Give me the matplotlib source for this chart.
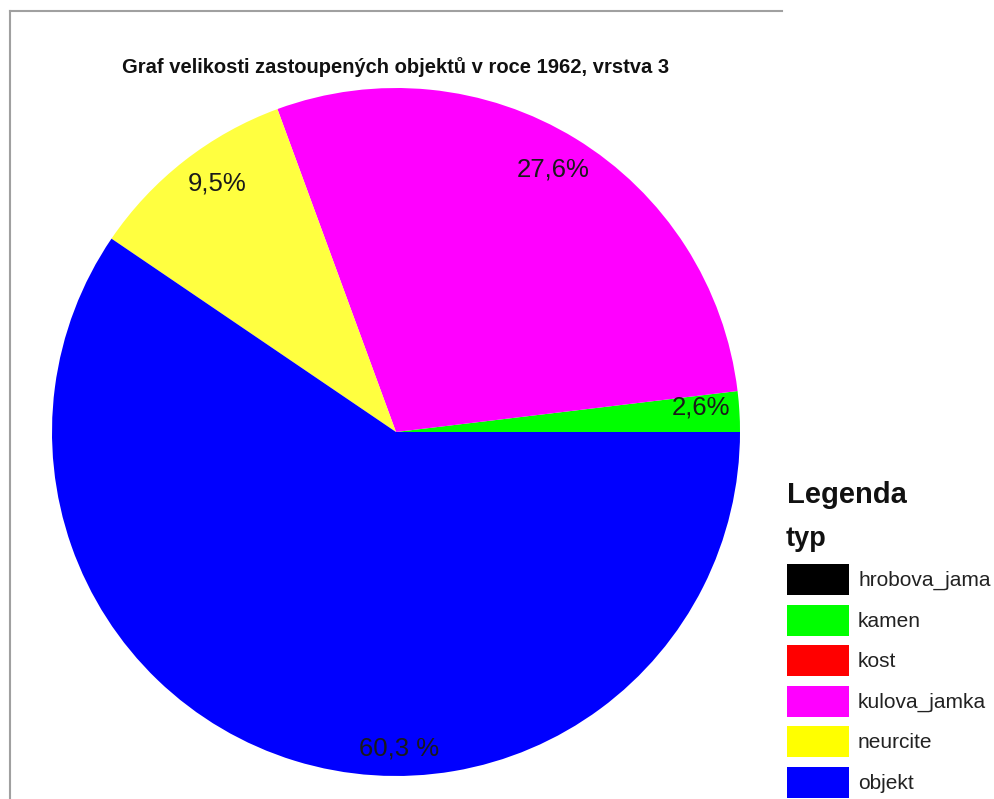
import math
import matplotlib
matplotlib.use("Agg")
import matplotlib.pyplot as plt
from matplotlib.lines import Line2D
from matplotlib.patches import Patch

# ---- data ----
categories = ['hrobova_jama', 'kamen', 'kost', 'kulova_jamka', 'neurcite', 'objekt']
# printed percentages
pct_values = [0.0, 2.6, 0.0, 27.6, 9.5, 60.3]
pct_labels = ['', '2,6%', '', '27,6%', '9,5%', '60,3 %']
# wedge sizes as drawn in the picture
wedge_sizes = [0.0, 1.9, 0.0, 28.7, 9.9, 59.5]
colors = ['#000000', '#00ff00', '#ff0000', '#ff00ff', '#ffff40', '#0000ff']
legend_colors = ['#000000', '#00ff00', '#ff0000', '#ff00ff', '#ffff00', '#0000ff']
title = 'Graf velikosti zastoupených objektů v roce 1962, vrstva 3'

plt.rcParams['font.family'] = ['Liberation Sans', 'DejaVu Sans']

W, H = 994, 799
fig = plt.figure(figsize=(W / 100, H / 100), dpi=100)
fig.patch.set_facecolor('white')

def fx(px):
    return px / W

def fy(py):
    return 1 - py / H

# pie axes: center (396,432), radius 344 px
cx, cy, r = 396, 432, 344
ax = fig.add_axes([fx(cx - r), fy(cy + r), 2 * r / W, 2 * r / H])

idx = [i for i, v in enumerate(wedge_sizes) if v > 0]
wedges, _ = ax.pie([wedge_sizes[i] for i in idx], colors=[colors[i] for i in idx],
                   startangle=0, counterclock=True,
                   wedgeprops=dict(linewidth=0))
ax.set_xlim(-1, 1)
ax.set_ylim(-1, 1)
ax.set_aspect('equal')
ax.axis('off')

# percentage labels, placed at the middle of the printed share
total = sum(pct_values)
cum = 0.0
for i, v in enumerate(pct_values):
    if v <= 0:
        continue
    theta = 360.0 * (cum + v / 2) / total
    cum += v
    dist = 0.89
    if categories[i] == 'objekt':
        theta = 270.5
        dist = 0.92
    x = dist * math.cos(math.radians(theta))
    y = dist * math.sin(math.radians(theta))
    ax.text(x, y, pct_labels[i], ha='center', va='center',
            fontsize=18.5, color='#1a1a1a')

# title
fig.text(fx(396), fy(73), title, ha='center', va='baseline',
         fontsize=14.5, fontweight='bold', color='#111111')

# frame lines (top and left)
fig.add_artist(Line2D([fx(10), fx(782)], [fy(11), fy(11)], color='#a0a0a0', lw=1.5))
fig.add_artist(Line2D([fx(10), fx(10)], [fy(11), 0], color='#a0a0a0', lw=1.5))

# legend headers
fig.text(fx(787), fy(503), 'Legenda', ha='left', va='baseline',
         fontsize=21, fontweight='bold', color='#111111')
fig.text(fx(786), fy(546), 'typ', ha='left', va='baseline',
         fontsize=19.5, fontweight='bold', color='#111111')

handles = [Patch(facecolor=c, edgecolor='none') for c in legend_colors]
fs = 15
fpx = fs * 100 / 72
hh = (31 / fpx - 0.245) / 0.65
leg = fig.legend(handles, categories, loc='upper left',
                 bbox_to_anchor=(fx(786.5), fy(564)),
                 frameon=False, fontsize=fs, borderpad=0, borderaxespad=0,
                 handlelength=62 / fpx, handleheight=hh,
                 labelspacing=(40.5 - 31) / fpx, handletextpad=9.5 / fpx)
for t in leg.get_texts():
    t.set_color('#222222')

fig.savefig('out.png', dpi=100, facecolor='white')
